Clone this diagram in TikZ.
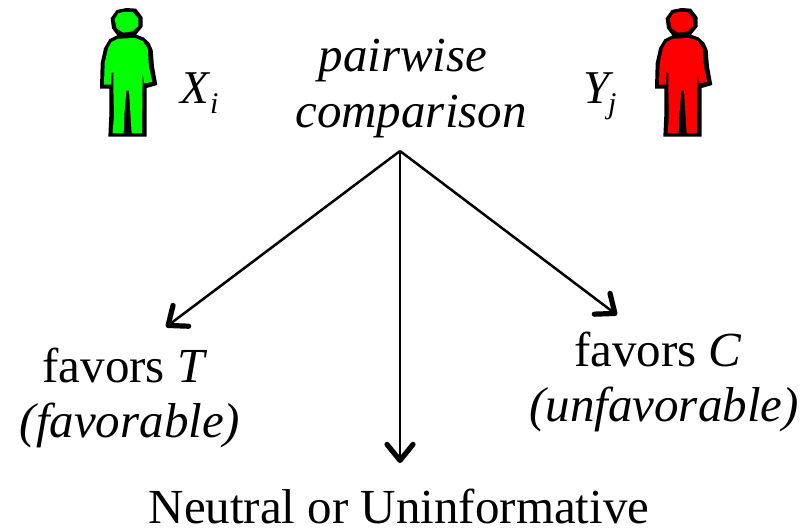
\documentclass[tikz,border=0pt]{standalone}
\usepackage{fontspec}
\setmainfont{Liberation Serif}
\usetikzlibrary{arrows.meta}
\tikzset{
  lbl/.style={anchor=base,inner sep=0pt,font=\fontsize{49}{54}\selectfont},
  lblit/.style={anchor=base,inner sep=0pt,font=\fontsize{49}{54}\selectfont\itshape},
  sym/.style={anchor=base west,inner sep=0pt,font=\fontsize{47}{52}\selectfont\itshape},
  subs/.style={anchor=base west,inner sep=0pt,font=\fontsize{30}{33}\selectfont\itshape},
  link/.style={draw=black,line width=2.5pt,-{Straight Barb[length=16pt,width=26pt,line width=5.2pt,round]}},
  person/.pic={
    \begin{scope}[x=0.3333pt,y=-0.3333pt]
      \fill[black] (140,24) -- (168,26) -- (188,52) -- (188,80) -- (168,104) -- (190,112) -- (208,128) -- (218,150) -- (222,200) -- (232,255) -- (200,264) -- (200,410) -- (85,410) -- (88,345) -- (88,266) -- (60,266) -- (62,190) -- (72,145) -- (88,118) -- (112,106) -- (96,85) -- (92,55) -- (110,30) -- cycle;
      \fill[pic actions] (135,35) -- (158,36) -- (175,56) -- (175,78) -- (158,94) -- (130,98) -- (110,85) -- (104,58) -- (115,40) -- cycle;
      \fill[pic actions] (115,116) -- (165,114) -- (188,123) -- (203,145) -- (207,200) -- (217,246) -- (192,250) -- (188,216) -- (186,400) -- (155,400) -- (147,272) -- (139,272) -- (133,345) -- (131,400) -- (98,400) -- (102,345) -- (100,262) -- (100,218) -- (95,218) -- (93,254) -- (72,254) -- (74,190) -- (84,145) -- (95,126) -- cycle;
    \end{scope}
  }
}
\begin{document}
\begin{tikzpicture}[x=1pt,y=-1pt]
\useasboundingbox (0,0) rectangle (808,528);
\pic[fill={rgb,255:red,0;green,255;blue,0}] at (80,0) {person};
\pic[fill={rgb,255:red,255;green,0;blue,0}] at (635,0) {person};
\node[sym] (xi) at (180,103) {X};
\node[subs] (xisub) at (210,113) {i};
\node[sym] (yj) at (583,103) {Y};
\node[subs] (yjsub) at (608,113) {j};
\node[lblit] (pw) at (403,71) {pairwise};
\node[lblit] (cmp) at (411,127) {comparison};
\coordinate (hub) at (400,151);
\coordinate (tl) at (166,327);
\coordinate (tm) at (400,463);
\coordinate (tr) at (617,315);
\draw[link] (hub) -- (tl);
\draw[link] (hub) -- (tm);
\draw[link] (hub) -- (tr);
\node[lbl] (ft) at (125,382) {favors \textit{T}};
\node[lblit] (fav) at (130,437) {(favorable)};
\node[lbl] (fc) at (658,366) {favors \textit{C}};
\node[lblit] (unf) at (664,421) {(unfavorable)};
\node[lbl] (neu) at (399,523) {Neutral or Uninformative};
\end{tikzpicture}
\end{document}
